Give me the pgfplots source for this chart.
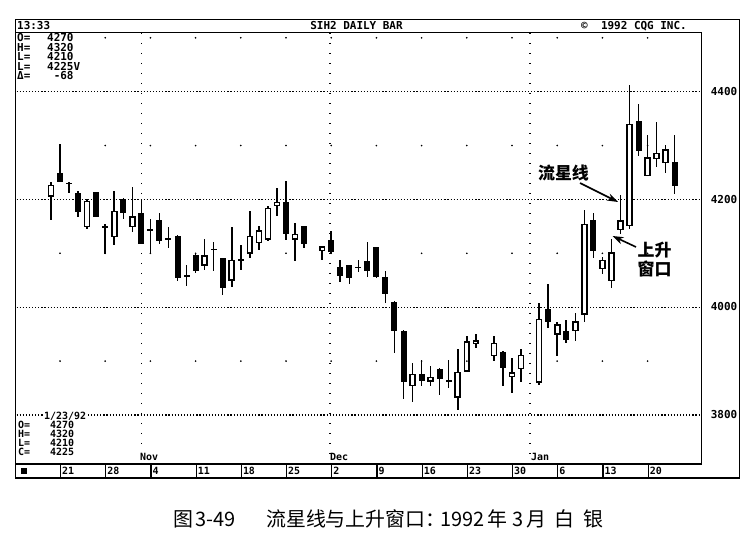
\documentclass[border=0pt]{standalone}
\usepackage{pgfplots}
\pgfplotsset{compat=1.18}
\usepackage{pgfplotstable}
\usepackage{fontspec}
\setmainfont{DejaVu Sans Mono}
\newfontfamily\cqg{DejaVu Sans Mono}
\newfontfamily\cjk{Noto Sans CJK SC}
\usetikzlibrary{arrows.meta}

% hollow (close >= open) candles: day index n, open, high, low, close
\pgfplotstableread{
n O H L C
-1 4205 4233 4162 4227
3 4148 4200 4146 4198
6 4130 4215 4115 4179
8 4148 4223 4140 4169
16 4077 4127 4069 4096
19 4049 4149 4038 4088
21 4099 4179 4092 4132
22 4119 4150 4107 4143
23 4125 4187 4123 4185
24 4188 4221 4169 4196
26 4125 4157 4085 4136
29 4104 4113 4087 4113
39 3854 3896 3824 3877
41 3862 3891 3854 3871
44 3832 3922 3809 3880
45 3880 3946 3880 3937
46 3931 3951 3925 3939
48 3909 3946 3900 3934
50 3871 3906 3840 3879
51 3885 3923 3861 3912
53 3860 4007 3855 3978
55 3949 3972 3909 3968
57 3956 3990 3937 3974
58 3986 4180 3972 4155
60 4071 4094 4061 4088
61 4048 4127 4036 4102
62 4143 4209 4136 4161
63 4150 4412 4145 4340
65 4243 4320 4243 4278
66 4275 4343 4260 4287
67 4267 4301 4249 4293
}\upbars

% filled (close < open) candles
\pgfplotstableread{
n O H L C
0 4249 4302 4233 4233
1 4231 4233 4212 4229
2 4212 4215 4168 4177
4 4213 4213 4167 4167
5 4150 4155 4099 4149
7 4200 4202 4163 4174
9 4175 4199 4118 4118
10 4144 4163 4098 4142
11 4162 4175 4118 4123
12 4128 4149 4109 4126
13 4133 4134 4048 4054
14 4059 4079 4040 4057
15 4096 4100 4063 4068
17 4108 4121 4068 4107
18 4092 4092 4023 4035
20 4089 4115 4069 4087
25 4196 4235 4124 4135
27 4150 4150 4109 4117
30 4125 4141 4100 4102
31 4075 4087 4047 4058
32 4079 4079 4043 4055
33 4075 4087 4065 4073
34 4085 4121 4057 4068
35 4111 4112 4054 4057
36 4057 4067 4008 4024
37 4009 4011 3916 3956
38 3956 3957 3830 3861
40 3877 3903 3854 3863
42 3886 3887 3838 3867
43 3864 3903 3851 3862
49 3917 3919 3854 3888
54 3997 4044 3962 3972
56 3956 3977 3934 3940
59 4162 4174 4092 4104
64 4346 4377 4281 4289
68 4270 4320 4210 4225
}\dnbars

% grid dots: Mondays x odd hundreds
\pgfplotstableread{
n p
0 4300
0 4100
0 3900
5 4500
5 4300
5 4100
5 3900
10 4500
10 4300
10 4100
10 3900
15 4500
15 4300
15 4100
15 3900
20 4500
20 4300
20 4100
20 3900
25 4500
25 4300
25 4100
25 3900
30 4500
30 4300
30 4100
30 3900
35 4500
35 4300
35 4100
35 3900
40 4500
40 4300
40 4100
40 3900
45 4500
45 4300
45 4100
45 3900
50 4500
50 4300
50 4100
50 3900
55 4500
55 4300
55 4100
55 3900
60 4500
60 4300
60 4100
60 3900
65 4500
65 4300
65 4100
65 3900
}\gdots

\tikzset{
  griddot/.style={line width=1.2bp, dash pattern=on 1.2bp off 1.9bp, black},
  monthdot/.style={line width=1.4bp, dash pattern=on 1.4bp off 8.6bp, black},
  cq/.style={font=\cqg\bfseries\fontsize{11}{11}\selectfont, inner sep=0pt},
  cqs/.style={font=\cqg\bfseries\fontsize{10}{10}\selectfont, inner sep=0pt},
  ann/.style={font=\cjk\bfseries\fontsize{17}{17}\selectfont, inner sep=0pt},
}

\begin{document}
\begin{tikzpicture}[x=1bp,y=1bp]
\fill[white] (0,0) rectangle (755,535);
\useasboundingbox (0,0) rectangle (755,535);

\begin{axis}[
  at={(16.5bp,71bp)}, anchor=south west,
  width=685.2bp, height=431bp, scale only axis,
  xmin=-4.812, xmax=70.985, ymin=3709.1, ymax=4508.9,
  axis lines=none, ticks=none, clip=true,
]
% dotted price grid
\draw[griddot] (-4.812,4400) -- (70.985,4400);
\draw[griddot] (-4.812,4200) -- (70.985,4200);
\draw[griddot] (-4.812,4000) -- (70.985,4000);
\draw[griddot] (-4.812,3800) -- (70.985,3800);
% month separators
\draw[monthdot] (9,4508.9) -- (9,3709.1);
\draw[monthdot] (29.85,4508.9) -- (29.85,3709.1);
\draw[monthdot] (52,4508.9) -- (52,3709.1);
% weekly dots
\addplot[only marks, mark=*, mark size=0.6bp, black, forget plot] table[x=n,y=p] {\gdots};

% wicks
\addplot[mark=none, draw=none, forget plot,
  error bars/.cd, y dir=both, y explicit, error mark=none,
  error bar style={draw=black, line width=1.5bp, solid}]
  table[x=n, y expr={(\thisrow{H}+\thisrow{L})/2}, y error expr={(\thisrow{H}-\thisrow{L})/2}] {\upbars};
\addplot[mark=none, draw=none, forget plot,
  error bars/.cd, y dir=both, y explicit, error mark=none,
  error bar style={draw=black, line width=1.5bp, solid}]
  table[x=n, y expr={(\thisrow{H}+\thisrow{L})/2}, y error expr={(\thisrow{H}-\thisrow{L})/2}] {\dnbars};
% filled bodies
\addplot[mark=none, draw=none, forget plot,
  error bars/.cd, y dir=both, y explicit, error mark=none,
  error bar style={draw=black, line width=6bp, solid}]
  table[x=n, y expr={(\thisrow{O}+\thisrow{C})/2}, y error expr={max(abs(\thisrow{O}-\thisrow{C})/2,1.4)}] {\dnbars};
% hollow bodies: outline then white interior
\addplot[mark=none, draw=none, forget plot,
  error bars/.cd, y dir=both, y explicit, error mark=none,
  error bar style={draw=black, line width=6.6bp, solid}]
  table[x=n, y expr={(\thisrow{O}+\thisrow{C})/2}, y error expr={max(abs(\thisrow{O}-\thisrow{C})/2,3)}] {\upbars};
\addplot[mark=none, draw=none, forget plot,
  error bars/.cd, y dir=both, y explicit, error mark=none,
  error bar style={draw=white, line width=3.3bp, solid}]
  table[x=n, y expr={(\thisrow{O}+\thisrow{C})/2}, y error expr={max(abs(\thisrow{O}-\thisrow{C})/2-2.6,0.4)}] {\upbars};
\end{axis}

% frames
\draw[line width=1.8bp] (15.5,515.5) rectangle (739.5,57);
\draw[line width=1.3bp] (15.5,502.5) -- (701.7,502.5);
\draw[line width=1.5bp] (701.7,502.5) -- (701.7,71) -- (15.5,71);

% header
\node[cq, anchor=base west] at (17,505) {13:33};
\node[cq, anchor=base] at (356.5,505) {SIH2 DAILY BAR};
\node[cq, anchor=base] at (634,505) {©~~1992 CQG INC.};

% top-left quote block
\node[cq, anchor=base west] at (17,493) {O=};
\node[cq, anchor=base west] at (47,493) {4270};
\node[cq, anchor=base west] at (17,483.5) {H=};
\node[cq, anchor=base west] at (47,483.5) {4320};
\node[cq, anchor=base west] at (17,474) {L=};
\node[cq, anchor=base west] at (47,474) {4210};
\node[cq, anchor=base west] at (17,464.5) {L=};
\node[cq, anchor=base west] at (47,464.5) {4225V};
\node[cq, anchor=base west] at (17,455) {Δ=};
\node[cq, anchor=base west] at (53.6,455) {-68};

% bottom-left quote block
\node[cqs, anchor=base west, fill=white, inner sep=1bp] at (43,115) {1/23/92};
\node[cqs, anchor=base west] at (18,106) {O=};
\node[cqs, anchor=base west] at (50,106) {4270};
\node[cqs, anchor=base west] at (18,97) {H=};
\node[cqs, anchor=base west] at (50,97) {4320};
\node[cqs, anchor=base west] at (18,88) {L=};
\node[cqs, anchor=base west] at (50,88) {4210};
\node[cqs, anchor=base west] at (18,79) {C=};
\node[cqs, anchor=base west] at (50,79) {4225};

% month names
\node[cqs, anchor=base west] at (140,74) {Nov};
\node[cqs, anchor=base west] at (330,74) {Dec};
\node[cqs, anchor=base west] at (531,74) {Jan};

% right price labels
\node[cq, anchor=base] at (724,535-91.7-4) {4400};
\node[cq, anchor=base] at (724,535-199.5-4) {4200};
\node[cq, anchor=base] at (724,535-307-4) {4000};
\node[cq, anchor=base] at (724,535-415-4) {3800};

% date strip
\fill (20.5,61) rectangle (26.5,67);
\foreach \n/\lab in {0/21,5/28,10/4,15/11,20/18,25/25,30/2,35/9,40/16,45/23,50/30,55/6,60/13,65/20}{
  \pgfmathsetmacro\xx{60+9.04*\n}
  \draw[line width=1.2bp] (\xx+0.5,57) -- (\xx+0.5,71);
  \node[cqs, anchor=base west] at (\xx+2,60) {\lab};
}

% annotations
\node[ann] at (563.5,361.5) {流星线};
\draw[line width=1.6bp, -{Stealth[length=11bp,width=7.5bp]}] (580,352) -- (618,333);
\node[ann] at (654.5,285) {上升};
\node[ann] at (654.5,266.5) {窗口};
\draw[line width=1.6bp, -{Stealth[length=11bp,width=7.5bp]}] (636,288) -- (612.5,299);

% caption
\begin{scope}[every node/.style={font=\cjk\fontsize{20}{20}\selectfont, inner sep=0pt, anchor=base}]
\node[anchor=base west] at (173,8) {图};
\node[anchor=base west] at (195,8) {3-49};
\node[anchor=base west] at (266,8) {流星线与上升窗口：};
\node[anchor=base west] at (440,8) {1992};
\node[anchor=base west] at (487,8) {年};
\node[anchor=base west] at (512,8) {3};
\node[anchor=base west] at (526,8) {月};
\node[anchor=base west] at (554,8) {白};
\node[anchor=base west] at (583,8) {银};
\end{scope}
\end{tikzpicture}
\end{document}
